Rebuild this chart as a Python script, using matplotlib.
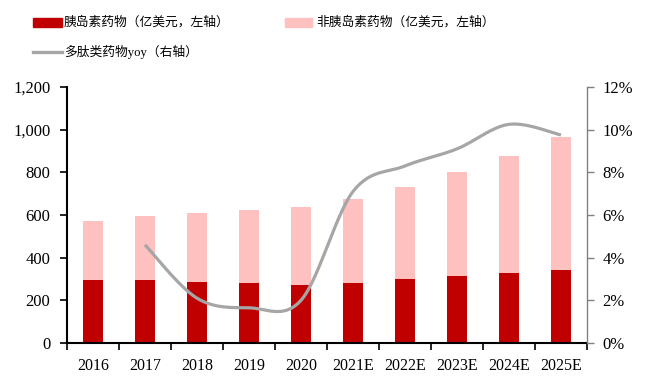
import numpy as np
import matplotlib
matplotlib.use("Agg")
import matplotlib.pyplot as plt
from matplotlib.patches import Rectangle
from matplotlib.lines import Line2D
from matplotlib.ticker import FuncFormatter, MultipleLocator

categories = ["2016", "2017", "2018", "2019", "2020", "2021E", "2022E", "2023E", "2024E", "2025E"]
insulin = [295, 295, 286, 281, 272, 281, 300, 314, 328, 342]
total = [572, 595, 609, 623, 637, 675, 731, 801, 877, 966]
non_insulin = [t - i for t, i in zip(total, insulin)]
yoy_years = categories[1:]
yoy = [4.6, 2.1, 1.65, 2.0, 7.1, 8.3, 9.1, 10.25, 9.75]
legend_labels = ["胰岛素药物（亿美元，左轴）", "非胰岛素药物（亿美元，左轴）", "多肽类药物yoy（右轴）"]

serif = ["Liberation Serif", "Noto Sans CJK SC"]
plt.rcParams["font.family"] = serif

W, H = 648, 389
fig = plt.figure(figsize=(6.48, 3.89), dpi=100)
ax = fig.add_axes([67/W, 1-343/H, 520/W, 256/H])
x = np.arange(len(categories))
red = "#C00000"
pink = "#FFC0C0"
gray = "#A6A6A6"
ax.bar(x, insulin, width=0.4, color=red, zorder=2)
ax.bar(x, non_insulin, width=0.4, bottom=insulin, color=pink, zorder=2)
ax.set_xlim(-0.5, len(categories) - 0.5)
ax.set_ylim(0, 1200)
ax.yaxis.set_major_locator(MultipleLocator(200))
ax.yaxis.set_major_formatter(FuncFormatter(lambda v, p: f"{int(v):,}"))
ax.set_xticks(x)
ax.set_xticklabels(categories)
ax.set_xticks(np.arange(-0.5, len(categories)), minor=True)
ax.tick_params(axis="x", which="major", length=0, pad=11, labelsize=11.5)
ax.tick_params(axis="x", which="minor", length=5, width=1.2, direction="out", color="black")
ax.tick_params(axis="y", length=5, width=1.2, labelsize=12, pad=7)
for s in ["top", "right"]:
    ax.spines[s].set_visible(False)
ax.spines["left"].set_linewidth(1.5)
ax.spines["bottom"].set_linewidth(1.5)

ax2 = ax.twinx()
ax2.set_ylim(0, 12)
ax2.yaxis.set_major_locator(MultipleLocator(2))
ax2.yaxis.set_major_formatter(FuncFormatter(lambda v, p: f"{int(round(v))}%"))
ax2.tick_params(axis="y", length=5, width=1, color="#808080", labelsize=12, pad=6)
for s in ["top", "left", "bottom"]:
    ax2.spines[s].set_visible(False)
ax2.spines["right"].set_color("#808080")
ax2.spines["right"].set_linewidth(1)

# smooth curve through the data points (Bezier with Catmull-Rom control points)
px = x[1:].astype(float)
py = np.array(yoy, dtype=float)
xs, ys = [], []
n = len(px)
for i in range(n - 1):
    p0 = np.array([px[max(i-1, 0)], py[max(i-1, 0)]])
    p1 = np.array([px[i], py[i]])
    p2 = np.array([px[i+1], py[i+1]])
    p3 = np.array([px[min(i+2, n-1)], py[min(i+2, n-1)]])
    c1 = p1 + (p2 - p0) / 6
    c2 = p2 - (p3 - p1) / 6
    t = np.linspace(0, 1, 30)[:, None]
    b = (1-t)**3*p1 + 3*(1-t)**2*t*c1 + 3*(1-t)*t**2*c2 + t**3*p2
    xs.extend(b[:, 0]); ys.extend(b[:, 1])
ax2.plot(xs, ys, color=gray, lw=2.3, zorder=3, solid_capstyle="butt")

# legend drawn in figure pixel positions
def fx(px_): return px_ / W
def fy(py_): return 1 - py_ / H
fig.add_artist(Rectangle((fx(33), fy(27)), 29/W, 9/H, color=red, transform=fig.transFigure))
fig.add_artist(Rectangle((fx(285), fy(27)), 27/W, 9/H, color=pink, transform=fig.transFigure))
fig.add_artist(Line2D([fx(33), fx(62)], [fy(52), fy(52)], color=gray, lw=2.4, transform=fig.transFigure))
fs = 9.2
fig.text(fx(64), fy(22.5), legend_labels[0], fontsize=fs, va="center", ha="left", family=serif)
fig.text(fx(316), fy(22.5), legend_labels[1], fontsize=fs, va="center", ha="left", family=serif)
fig.text(fx(64), fy(52), legend_labels[2], fontsize=fs, va="center", ha="left", family=serif)

fig.savefig("out.png", dpi=100)
